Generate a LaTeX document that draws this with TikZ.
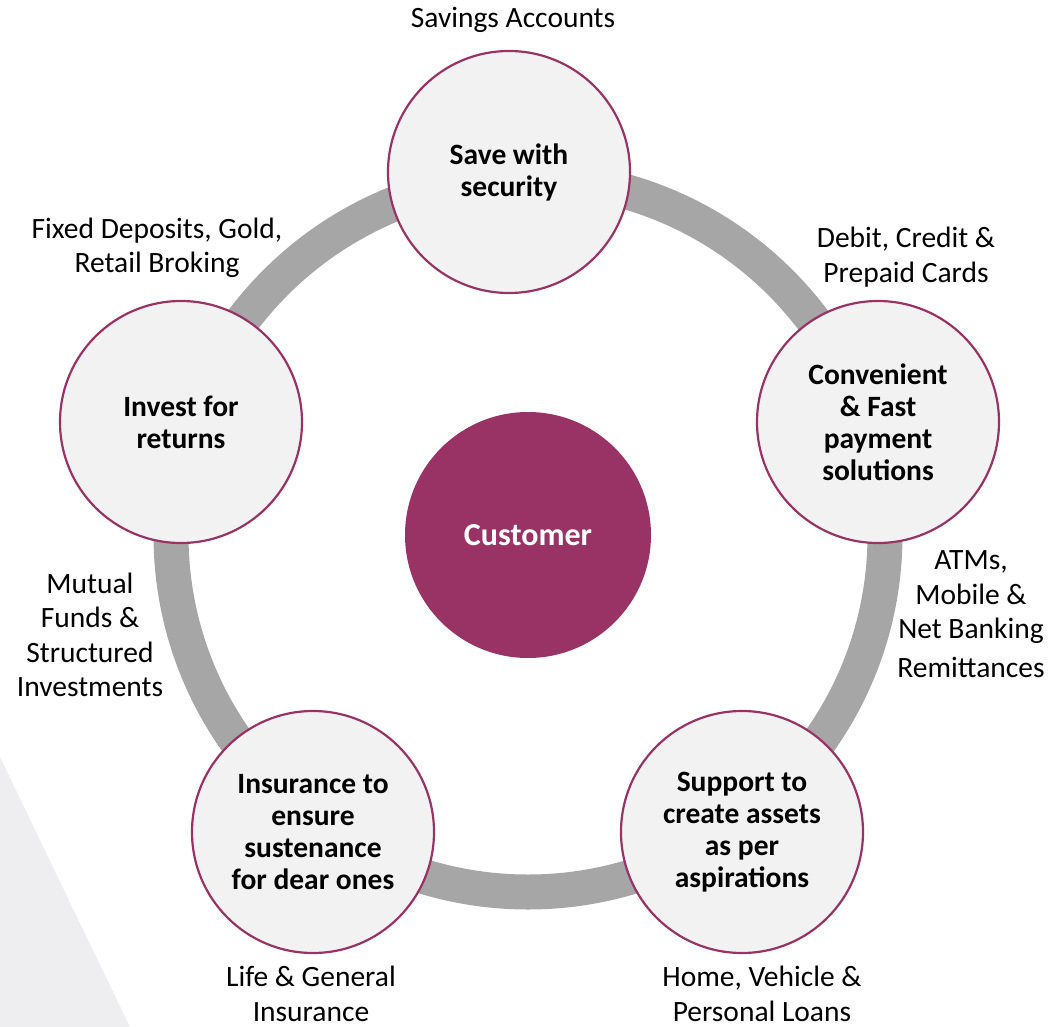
\documentclass[tikz,border=0pt]{standalone}
\usepackage{fontspec}
\setmainfont{Carlito}
\definecolor{plum}{RGB}{153,51,102}
\definecolor{ringgray}{RGB}{166,166,166}
\definecolor{discfill}{RGB}{242,242,242}
\definecolor{shadegray}{RGB}{238,238,240}
\tikzset{
  goal/.style={circle, draw=plum, line width=2.2pt, fill=discfill,
    minimum size=242pt, inner sep=0pt, align=center,
    font=\bfseries\fontsize{29.5}{32}\selectfont},
  offer/.style={align=center, inner sep=0pt, font=\fontsize{29.5}{34.5}\selectfont},
}

\begin{document}
\begin{tikzpicture}[x=1pt,y=-1pt]
\useasboundingbox (0,0) rectangle (1049,1027);
% pale wedge in the lower left corner
\fill[shadegray] (0,757) -- (130,1027) -- (0,1027) -- cycle;
% ring through the five goals
\draw[ringgray, line width=35pt] (528,535) circle (357);

\node[circle, fill=plum, minimum size=246pt, inner sep=0pt, text=white,
  font=\bfseries\fontsize{32}{36}\selectfont] (cust) at (528,535) {Customer};

\node[goal] (save)   at (509,172) {Save with\\security};
\node[goal] (pay)    at (878,422) {Convenient\\\& Fast\\payment\\solutions};
\node[goal] (assets) at (742,832) {Support to\\create assets\\as per\\aspirations};
\node[goal] (insure) at (313,832) {Insurance to\\ensure\\sustenance\\for dear ones};
\node[goal] (invest) at (181,422) {Invest for\\returns};

% products next to each goal
\node[offer] (savings)  at (513,20)  {Savings Accounts};
\node[offer] (cards)    at (906,257) {Debit, Credit \&\\Prepaid Cards};
\node[offer] (banking)  at (971,614) {ATMs,\\Mobile \&\\Net Banking\\[4pt]Remittances};
\node[offer] (loans)    at (762,994) {Home, Vehicle \&\\Personal Loans};
\node[offer] (life)     at (311,994) {Life \& General\\Insurance};
\node[offer] (funds)    at (90,635)  {Mutual\\Funds \&\\Structured\\Investments};
\node[offer] (deposits) at (157,248) {Fixed Deposits, Gold,\\Retail Broking};
\end{tikzpicture}
\end{document}
